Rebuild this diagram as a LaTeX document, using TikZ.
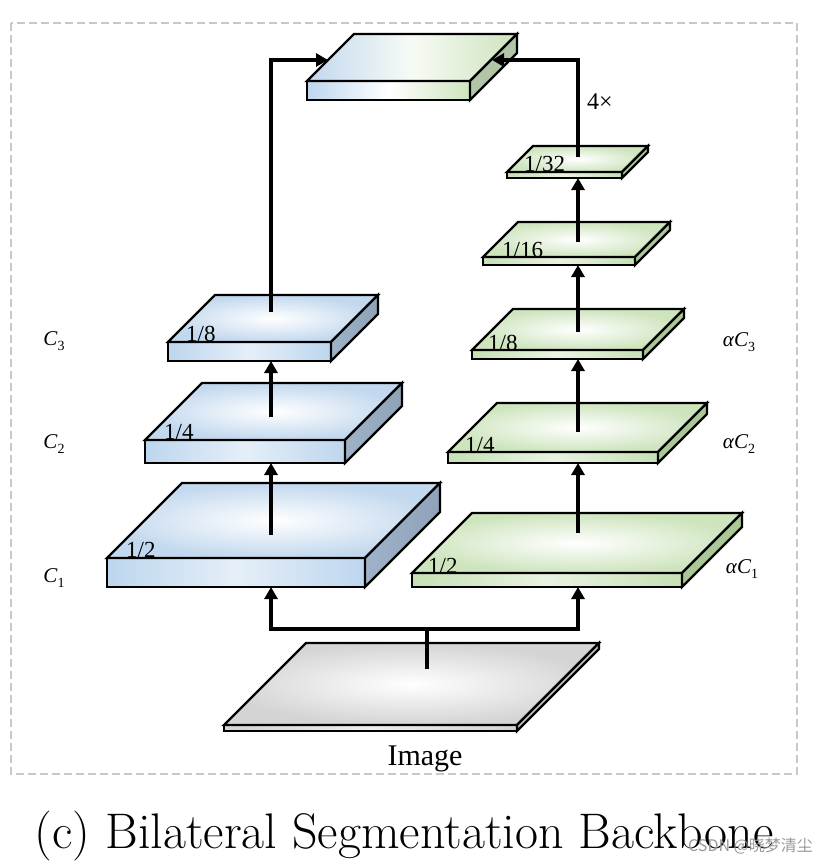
\documentclass[tikz,border=0pt]{standalone}
\usepackage{fontspec}
\usetikzlibrary{arrows.meta}
\newfontfamily\tnr{Liberation Serif}
\newfontfamily\cjk{Noto Sans CJK SC}
\definecolor{bluF}{HTML}{BDD6EE}
\definecolor{bluT}{HTML}{C2D8EE}
\definecolor{bluS}{HTML}{9FB3C8}
\definecolor{bluS2}{HTML}{8EA2B8}
\definecolor{grnF}{HTML}{C6E0B4}
\definecolor{grnT}{HTML}{CDE4BD}
\definecolor{grnS}{HTML}{AAC797}
\definecolor{gryF}{HTML}{D2D2D2}
\definecolor{gryT}{HTML}{D4D4D4}
\definecolor{gryS}{HTML}{BDBDBD}
\definecolor{topS}{HTML}{B3C5A7}
\definecolor{frame}{HTML}{C8C8C8}
\newcommand\slabshape[9]{% x1 x2 ytop ybot d frontcol topcol side1 side2
  \draw[slabline, left color=#6, right color=#6, middle color=#6!40!white] (#1,#3) rectangle (#2,#4);
  \draw[slabline, inner color=white, outer color=#7] (#1,#3) -- ++(#5,-#5) -- ++({#2-#1},0) -- (#2,#3) -- cycle;
  \draw[slabline, left color=#8, right color=#9] (#2,#3) -- ++(#5,-#5) -- ++(0,{#4-#3}) -- (#2,#4) -- cycle;
}
\newcommand\clabel[2]{{\tnr\itshape #1C}\raisebox{-5pt}{\tnr\fontsize{14}{14}\selectfont #2}}
\begin{document}
\begin{tikzpicture}[x=1pt,y=-1pt,
  slabline/.style={line width=2.2pt, line join=miter},
  arr/.style={line width=3.2pt, -{Triangle[length=12pt,width=13pt]}},
  plain/.style={line width=3.2pt},
  frac/.style={font=\tnr\fontsize{23}{26}\selectfont, anchor=base west, inner sep=0pt},
  clab/.style={font=\tnr\fontsize{21}{24}\selectfont, inner sep=0pt}]
\useasboundingbox (0,0) rectangle (832,864);
% frame
\draw[frame, line width=2pt, dash pattern=on 8pt off 4pt] (11,23) rectangle (797,774);

% ---------- output slab ----------
\draw[slabline, left color=bluF, right color=grnT, middle color=white] (307,81) rectangle (470,100);
\draw[slabline, left color=bluT, right color=grnT, middle color=white!85!grnT] (307,81) -- ++(47,-47) -- ++(163,0) -- (470,81) -- cycle;
\draw[slabline, fill=topS] (470,81) -- ++(47,-47) -- ++(0,19) -- (470,100) -- cycle;
\coordinate (outL) at (328,60);
\coordinate (outR) at (492,60);

% ---------- blue branch ----------
\slabshape{107}{365}{558}{587}{75}{bluF}{bluT}{bluS}{bluS2}
\node[frac] (lb2) at (126,557) {1/2};
\slabshape{145}{345}{440}{463}{57}{bluF}{bluT}{bluS}{bluS2}
\node[frac] (lb4) at (164,439) {1/4};
\slabshape{168}{331}{342}{361}{47}{bluF}{bluT}{bluS}{bluS2}
\node[frac] (lb8) at (186,341) {1/8};

% ---------- green branch ----------
\slabshape{412}{682}{573}{587}{60}{grnF}{grnT}{grnS}{grnS}
\node[frac] (lg2) at (428,573) {1/2};
\slabshape{448}{658}{452}{463}{49}{grnF}{grnT}{grnS}{grnS}
\node[frac] (lg4) at (465,452) {1/4};
\slabshape{472}{643}{350}{359}{41}{grnF}{grnT}{grnS}{grnS}
\node[frac] (lg8) at (488,350) {1/8};
\slabshape{483}{635}{257}{265}{35}{grnF}{grnT}{grnS}{grnS}
\node[frac] (lg16) at (502,257) {1/16};
\slabshape{507}{622}{172}{178}{26}{grnF}{grnT}{grnS}{grnS}
\node[frac] (lg32) at (524,171) {1/32};

% ---------- image slab ----------
\slabshape{224}{517}{725}{731}{82}{gryF}{gryT}{gryS}{gryS}

% coordinates on slabs
\coordinate (b2t) at (271,535); \coordinate (b2f) at (271,587);
\coordinate (b4t) at (271,417); \coordinate (b4f) at (271,463);
\coordinate (b8t) at (271,312); \coordinate (b8f) at (271,361);
\coordinate (g2t) at (578,533); \coordinate (g2f) at (578,587);
\coordinate (g4t) at (578,432); \coordinate (g4f) at (578,463);
\coordinate (g8t) at (578,332); \coordinate (g8f) at (578,359);
\coordinate (g16t) at (578,242); \coordinate (g16f) at (578,265);
\coordinate (g32t) at (578,157); \coordinate (g32f) at (578,178);
\coordinate (imgt) at (427,669);
\coordinate (split) at (427,629);

% ---------- connectors ----------
\draw[plain] (imgt) -- (split);
\draw[arr] (split) -| (b2f);
\draw[arr] (split) -| (g2f);
\draw[arr] (b2t) -- (b4f);
\draw[arr] (b4t) -- (b8f);
\draw[arr] (b8t) |- (outL);
\draw[arr] (g2t) -- (g4f);
\draw[arr] (g4t) -- (g8f);
\draw[arr] (g8t) -- (g16f);
\draw[arr] (g16t) -- (g32f);
\draw[arr] (g32t) |- (outR);

% ---------- labels ----------
\node[font=\tnr\fontsize{24}{28}\selectfont, anchor=base west, inner sep=0pt] (times) at (587,110) {4×};
\node[clab] (c3) at (54,341) {\clabel{}{3}};
\node[clab] (c2) at (54,444) {\clabel{}{2}};
\node[clab] (c1) at (54,578) {\clabel{}{1}};
\node[clab] (ac3) at (739,342) {\clabel{α}{3}};
\node[clab] (ac2) at (739,444) {\clabel{α}{2}};
\node[clab] (ac1) at (742,569) {\clabel{α}{1}};
\node[font=\tnr\fontsize{30}{34}\selectfont, anchor=base, inner sep=0pt] (img) at (425,765) {Image};
\node[font=\fontsize{50}{54}\selectfont, anchor=base, inner sep=0pt] (cap) at (404,848) {(c) Bilateral Segmentation Backbone};
\node[font=\cjk\fontsize{16}{18}\selectfont, text=gray!80, anchor=base east, inner sep=0pt] (wm) at (813,851) {CSDN @晓梦清尘};
\end{tikzpicture}
\end{document}
